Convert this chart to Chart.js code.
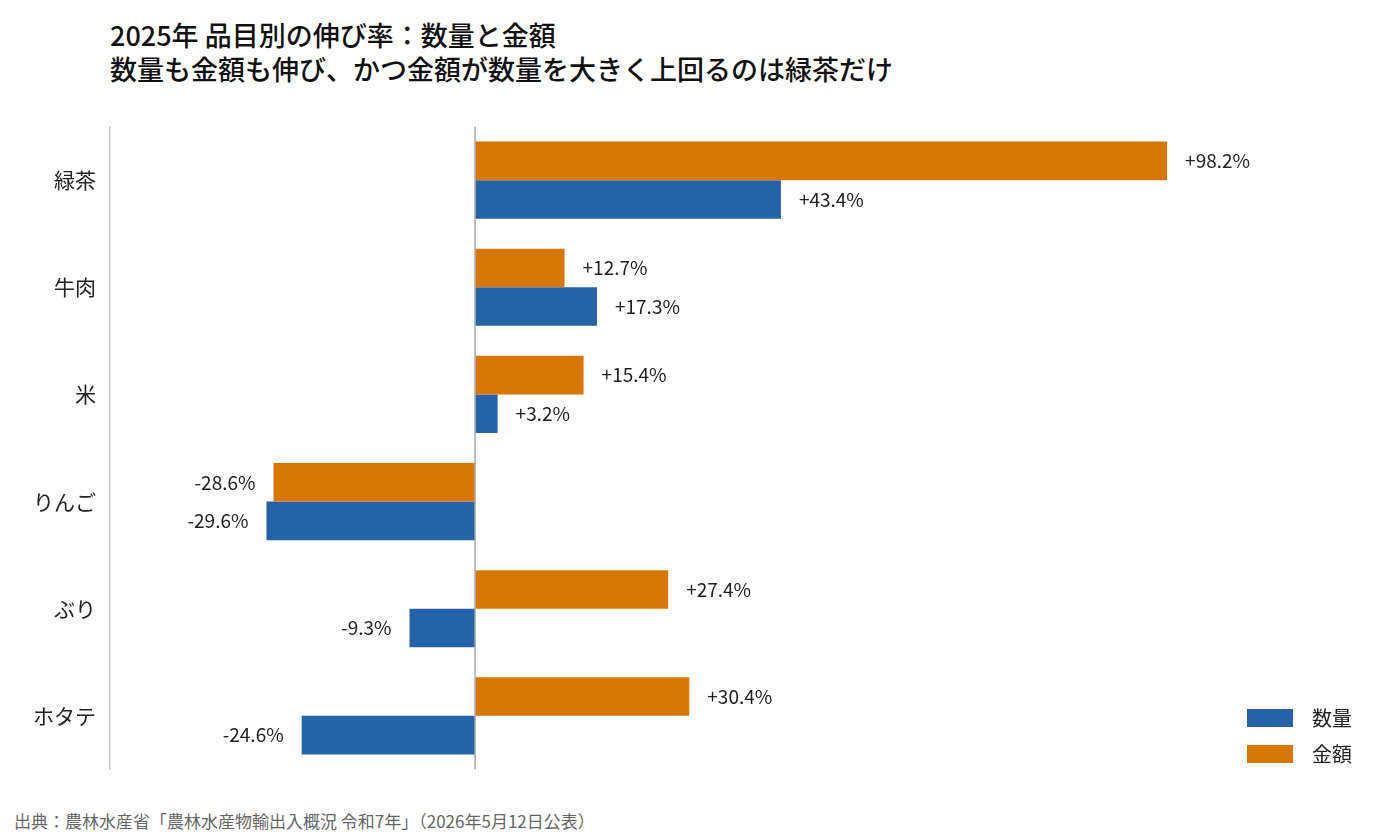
<!DOCTYPE html>
<html><head><meta charset="utf-8">
<script src="https://cdn.jsdelivr.net/npm/chart.js@4"></script>
<style>
body{margin:0;background:#fff;font-family:"Noto Sans CJK JP",sans-serif;}
#wrap{position:relative;width:1400px;height:840px;}
h1{position:absolute;left:110px;top:18px;margin:0;font-size:27px;font-weight:500;line-height:34px;color:#111;}
#src{position:absolute;left:14px;top:808px;font-size:17px;color:#666;}
#box{position:absolute;left:0;top:108px;width:1400px;height:680px;}
</style></head><body>
<div id="wrap">
<h1>2025年 品目別の伸び率：数量と金額<br>数量も金額も伸び、かつ金額が数量を大きく上回るのは緑茶だけ</h1>
<div id="box"><canvas id="c"></canvas></div>
<div id="src">出典：農林水産省「農林水産物輸出入概況 令和7年」（2026年5月12日公表）</div>
</div>
<script>
const categories = ['緑茶', '牛肉', '米', 'りんご', 'ぶり', 'ホタテ'];
const volume = [43.4, 17.3, 3.2, -29.6, -9.3, -24.6];
const value = [98.2, 12.7, 15.4, -28.6, 27.4, 30.4];
const BLUE = '#2463a8', ORANGE = '#d97706';
const fmt = v => (v > 0 ? '+' : '') + v.toFixed(1) + '%';

const labelPlugin = {
  id: 'labels',
  afterDatasetsDraw(chart) {
    const ctx = chart.ctx;
    ctx.save();
    ctx.font = '19px "Noto Sans CJK JP"';
    ctx.fillStyle = '#222';
    ctx.textBaseline = 'middle';
    chart.data.datasets.forEach((ds, i) => {
      chart.getDatasetMeta(i).data.forEach((bar, j) => {
        const v = ds.data[j];
        ctx.textAlign = v >= 0 ? 'left' : 'right';
        ctx.fillText(fmt(v), bar.x + (v >= 0 ? 18 : -18), bar.y);
      });
    });
    // zero line
    const x0 = chart.scales.x.getPixelForValue(0);
    ctx.strokeStyle = '#aaa'; ctx.lineWidth = 1.5;
    ctx.beginPath(); ctx.moveTo(x0, chart.chartArea.top); ctx.lineTo(x0, chart.chartArea.bottom); ctx.stroke();
    // legend
    const items = [['数量', BLUE], ['金額', ORANGE]];
    ctx.font = '20px "Noto Sans CJK JP"';
    ctx.textAlign = 'left';
    items.forEach((it, k) => {
      const y = 610 + k * 36;
      ctx.fillStyle = it[1]; ctx.fillRect(1247, y - 9, 46, 18);
      ctx.fillStyle = '#222'; ctx.fillText(it[0], 1312, y);
    });
    ctx.restore();
  }
};

new Chart(document.getElementById('c'), {
  type: 'bar',
  data: {
    labels: categories,
    datasets: [
      { label: '金額', data: value, backgroundColor: ORANGE },
      { label: '数量', data: volume, backgroundColor: BLUE }
    ]
  },
  options: {
    indexAxis: 'y',
    responsive: true, maintainAspectRatio: false, animation: false,
    layout: { padding: { left: 0, right: 130, top: 0, bottom: 0 } },
    categoryPercentage: 0.72, barPercentage: 1,
    plugins: { legend: { display: false }, tooltip: { enabled: false } },
    scales: {
      x: { min: -51.8, max: 112.8, display: false },
      y: {
        afterFit(s) { s.width = 110; },
        grid: { display: false, drawTicks: true },
        border: { color: '#ccc', width: 1.5 },
        ticks: { color: '#222', font: { size: 21, family: '"Noto Sans CJK JP"' }, padding: 6 }
      }
    }
  },
  plugins: [labelPlugin]
});
</script>
</body></html>
